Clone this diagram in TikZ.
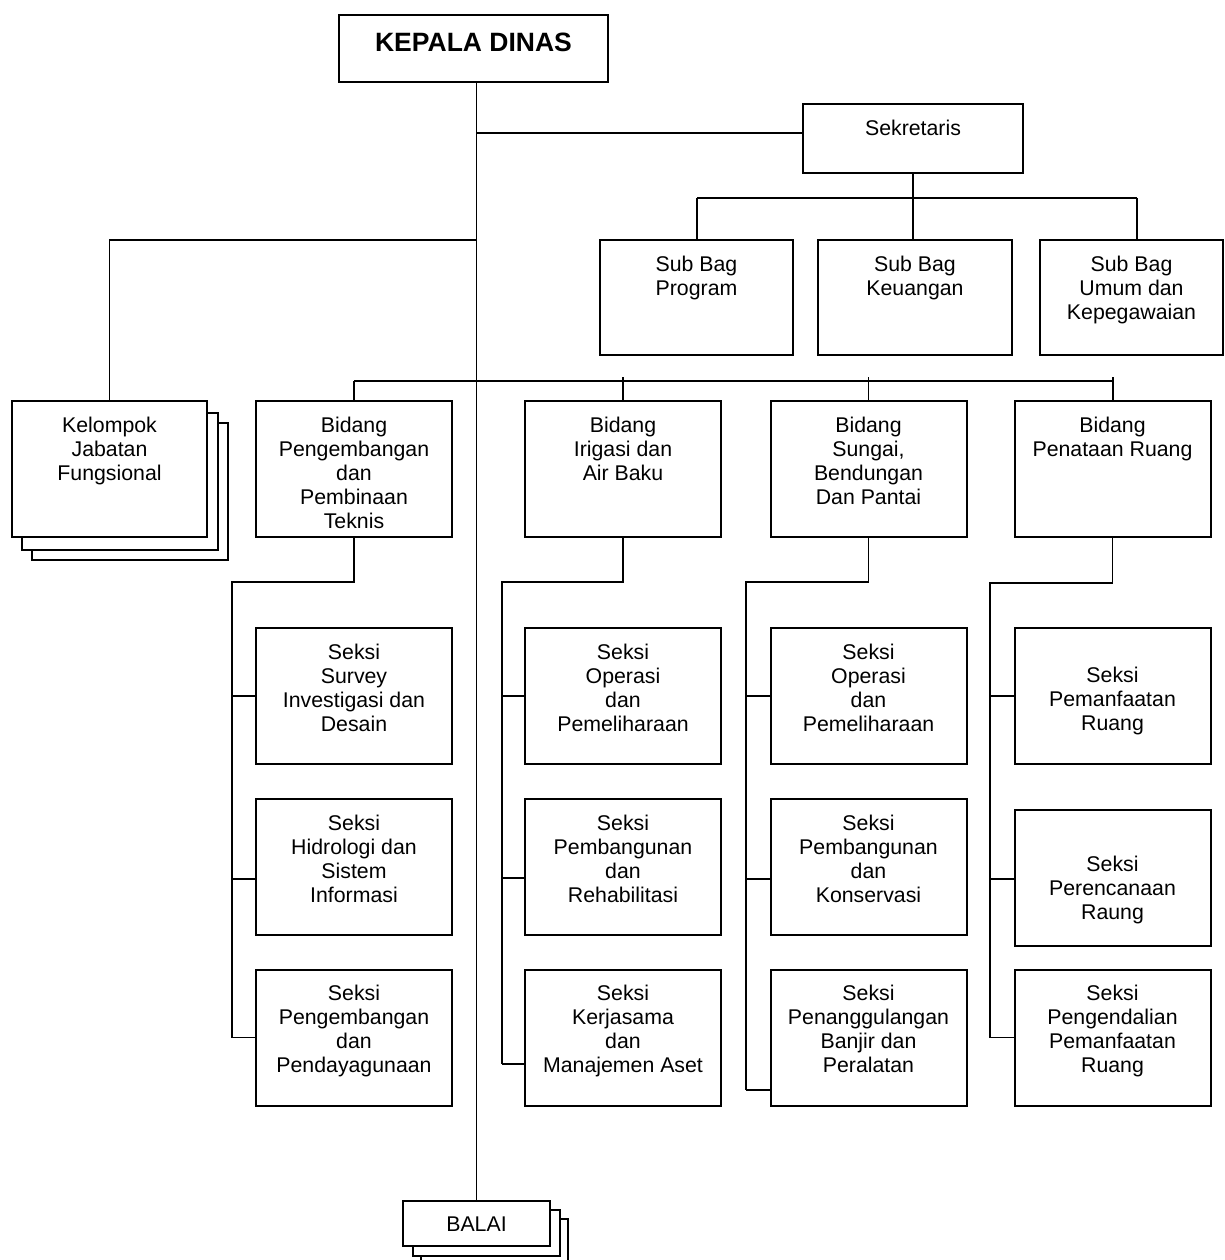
\documentclass[tikz,border=0pt]{standalone}
\usepackage{fontspec}
\setmainfont{Liberation Sans}
\usetikzlibrary{calc}
\newcommand{\firstln}{\rule{0pt}{16pt}}
\begin{document}
\begin{tikzpicture}[x=1pt,y=-1pt,
  box/.style={draw, line width=2pt, fill=white, inner sep=0pt},
  conn/.style={line width=1.9pt},
  lbl/.style={font=\fontsize{21.3}{24}\selectfont, align=center, inner sep=0pt, anchor=north},
  seksi/.style={box, minimum width=196pt, minimum height=136pt},
  subbag/.style={box, minimum height=115pt}]
\useasboundingbox (0,0) rectangle (1225,1260);

% ---------- boxes ----------
\node[box, minimum width=269pt, minimum height=67pt] (kd) at (473.5,48.5) {};
\node[font=\fontsize{26.5}{30}\selectfont\bfseries, anchor=base, inner sep=0pt] (kdt) at (473.5,52) {KEPALA DINAS};

\node[box, minimum width=220pt, minimum height=69pt] (sek) at (913,138.5) {};
\node[lbl] (sekt) at ([yshift=-16pt]sek.north) {\firstln Sekretaris};

\node[subbag, minimum width=193pt] (sb1) at (696.5,297.5) {};
\node[lbl] (sb1t) at ([yshift=-16pt]sb1.north) {\firstln Sub Bag\\Program};
\node[subbag, minimum width=194pt] (sb2) at (915,297.5) {};
\node[lbl] (sb2t) at ([yshift=-16pt]sb2.north) {\firstln Sub Bag\\Keuangan};
\node[subbag, minimum width=183pt] (sb3) at (1131.5,297.5) {};
\node[lbl] (sb3t) at ([yshift=-16pt]sb3.north) {\firstln Sub Bag\\Umum dan\\Kepegawaian};

% Kelompok Jabatan Fungsional (stacked)
\node[box, minimum width=196pt, minimum height=137pt] (kel3) at (130,491) {};
\node[box, minimum width=196pt, minimum height=137pt] (kel2) at (119.5,481) {};
\node[box, minimum width=195pt, minimum height=136pt] (kel) at (109.5,469) {};
\node[lbl] (kelt) at ([yshift=-16pt]kel.north) {\firstln Kelompok\\Jabatan\\Fungsional};

% Bidang
\node[seksi] (bd1) at (354,469) {};
\node[lbl] (bd1t) at ([yshift=-16pt]bd1.north) {\firstln Bidang\\Pengembangan\\dan\\Pembinaan\\Teknis};
\node[seksi] (bd2) at (623,469) {};
\node[lbl] (bd2t) at ([yshift=-16pt]bd2.north) {\firstln Bidang\\Irigasi dan\\Air Baku};
\node[seksi] (bd3) at (868.5,469) {};
\node[lbl] (bd3t) at ([yshift=-16pt]bd3.north) {\firstln Bidang\\Sungai,\\Bendungan\\Dan Pantai};
\node[seksi] (bd4) at (1112.5,469) {};
\node[lbl] (bd4t) at ([yshift=-16pt]bd4.north) {\firstln Bidang\\Penataan Ruang};

% Seksi column 1
\node[seksi] (s11) at (354,696) {};
\node[lbl] (s11t) at ([yshift=-16pt]s11.north) {\firstln Seksi\\Survey\\Investigasi dan\\Desain};
\node[seksi] (s12) at (354,867) {};
\node[lbl] (s12t) at ([yshift=-16pt]s12.north) {\firstln Seksi\\Hidrologi dan\\Sistem\\Informasi};
\node[seksi] (s13) at (354,1037.5) {};
\node[lbl] (s13t) at ([yshift=-16pt]s13.north) {\firstln Seksi\\Pengembangan\\dan\\Pendayagunaan};

% Seksi column 2
\node[seksi] (s21) at (623,696) {};
\node[lbl] (s21t) at ([yshift=-16pt]s21.north) {\firstln Seksi\\Operasi\\dan\\Pemeliharaan};
\node[seksi] (s22) at (623,867) {};
\node[lbl] (s22t) at ([yshift=-16pt]s22.north) {\firstln Seksi\\Pembangunan\\dan\\Rehabilitasi};
\node[seksi] (s23) at (623,1037.5) {};
\node[lbl] (s23t) at ([yshift=-16pt]s23.north) {\firstln Seksi\\Kerjasama\\dan\\Manajemen Aset};

% Seksi column 3
\node[seksi] (s31) at (868.5,696) {};
\node[lbl] (s31t) at ([yshift=-16pt]s31.north) {\firstln Seksi\\Operasi\\dan\\Pemeliharaan};
\node[seksi] (s32) at (868.5,867) {};
\node[lbl] (s32t) at ([yshift=-16pt]s32.north) {\firstln Seksi\\Pembangunan\\dan\\Konservasi};
\node[seksi] (s33) at (868.5,1037.5) {};
\node[lbl] (s33t) at ([yshift=-16pt]s33.north) {\firstln Seksi\\Penanggulangan\\Banjir dan\\Peralatan};

% Seksi column 4
\node[seksi] (s41) at (1112.5,696) {};
\node[lbl] (s41t) at ([yshift=-39pt]s41.north) {\firstln Seksi\\Pemanfaatan\\Ruang};
\node[seksi] (s42) at (1112.5,878) {};
\node[lbl] (s42t) at ([yshift=-46pt]s42.north) {\firstln Seksi\\Perencanaan\\Raung};
\node[seksi] (s43) at (1112.5,1037.5) {};
\node[lbl] (s43t) at ([yshift=-16pt]s43.north) {\firstln Seksi\\Pengendalian\\Pemanfaatan\\Ruang};

% BALAI (stacked)
\node[box, minimum width=147pt, minimum height=46pt] (bal3) at (494.5,1242) {};
\node[box, minimum width=147pt, minimum height=46pt] (bal2) at (486.5,1233) {};
\node[box, minimum width=147pt, minimum height=45pt] (bal) at (476.5,1223.5) {};
\node[font=\fontsize{21.3}{24}\selectfont, anchor=base, inner sep=0pt] (balt) at (476.5,1231) {BALAI};

% ---------- connectors ----------
\coordinate (sj) at (476.5,133);
\coordinate (kj) at (476.5,240);
\coordinate (sbL) at (697,198);
\coordinate (sbR) at (1137,198);
\coordinate (bbL) at (354,381);
\coordinate (bbR) at (1113,381);
\coordinate (bbT) at (354,377);

\draw[conn] (kd.south -| bal.north) -- (bal.north);
\draw[conn] (sj) -- (sj -| sek.west);
\draw[conn] (kj) -| (kel.north);

\draw[conn] (sek.south) -- (sek.south |- sbL);
\draw[conn] (sbL) -- (sbR);
\draw[conn] (sbL) -- (sbL |- sb1.north);
\draw[conn] (sek.south |- sbL) -- (sek.south |- sb2.north);
\draw[conn] (sbR) -- (sbR |- sb3.north);

\draw[conn] (bbL) -- (bbR);
\draw[conn] (bbL) -- (bd1.north);
\draw[conn] (bd2.north |- bbT) -- (bd2.north);
\draw[conn] (bd3.north |- bbT) -- (bd3.north);
\draw[conn] (bbR |- bbT) -- (bbR |- bd4.north);

% column 1
\coordinate (c1) at (232,582);
\coordinate (t12) at (232,879);
\draw[conn] (bd1.south) |- (c1) -- (c1 |- s13.west);
\draw[conn] (c1 |- s11.west) -- (s11.west);
\draw[conn] (t12) -- (t12 -| s12.west);
\draw[conn] (c1 |- s13.west) -- (s13.west);

% column 2
\coordinate (c2) at (502,582);
\coordinate (t22) at (502,878);
\coordinate (t23) at (502,1064);
\draw[conn] (bd2.south) |- (c2) -- (t23);
\draw[conn] (c2 |- s21.west) -- (s21.west);
\draw[conn] (t22) -- (t22 -| s22.west);
\draw[conn] (t23) -- (t23 -| s23.west);

% column 3
\coordinate (c3) at (746,582);
\coordinate (t32) at (746,879);
\coordinate (t33) at (746,1090);
\draw[conn] (bd3.south) |- (c3) -- (t33);
\draw[conn] (c3 |- s31.west) -- (s31.west);
\draw[conn] (t32) -- (t32 -| s32.west);
\draw[conn] (t33) -- (t33 -| s33.west);

% column 4
\coordinate (c4) at (990,583);
\coordinate (t42) at (990,879);
\draw[conn] (bd4.south) |- (c4) -- (c4 |- s43.west);
\draw[conn] (c4 |- s41.west) -- (s41.west);
\draw[conn] (t42) -- (t42 -| s42.west);
\draw[conn] (c4 |- s43.west) -- (s43.west);
\end{tikzpicture}
\end{document}
